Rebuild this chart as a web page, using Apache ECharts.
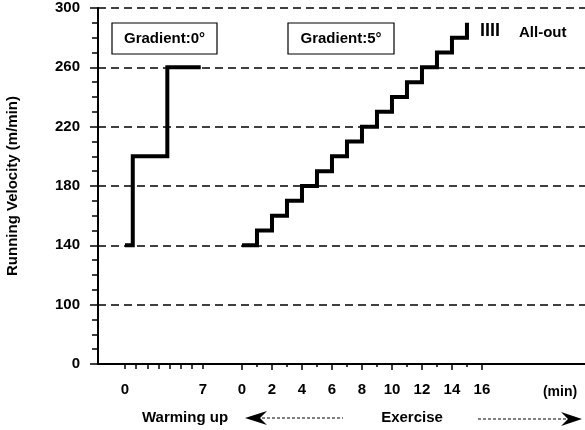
<!DOCTYPE html>
<html>
<head>
<meta charset="utf-8">
<script src="https://cdn.jsdelivr.net/npm/echarts@6/dist/echarts.min.js"></script>
<style>
html, body { margin: 0; padding: 0; background: #fff; }
#chart { width: 585px; height: 430px; }
</style>
</head>
<body>
<div id="chart"></div>
<script>
// warming up, gradient 0 deg (min / m per min)
var warmMin = [0, 0.7, 3.8, 6.8]
var warmVel = [140, 200, 260, 260]
// exercise, gradient 5 deg
var exMin = [0, 1, 2, 3, 4, 5, 6, 7, 8, 9, 10, 11, 12, 13, 14, 15]
var exVel = [140, 150, 160, 170, 180, 190, 200, 210, 220, 230, 240, 250, 260, 270, 280, 290]
// axis labels (the y axis is broken: its bottom tick reads 0)
var yLabels = ['0', '100', '140', '180', '220', '260', '300']
var warmLabels = [0, 7]
var warmTicks = [0, 1, 2, 3, 4, 5, 6, 7]
var exLabels = [0, 2, 4, 6, 8, 10, 12, 14, 16]
var exMinorTicks = [1, 3, 5, 7, 9, 11, 13, 15]

var VEL_BASE = 60 // velocity drawn at the bottom of the broken axis
var FONT = 'Liberation Sans, Arial, sans-serif'

var chart = echarts.init(document.getElementById('chart'))

var labelStyle = { color: '#000', fontFamily: FONT, fontSize: 15, fontWeight: 'bold' }

var option = {
  animation: false,
  grid: { left: 98, right: 0, top: 8, bottom: 66, outerBoundsMode: 'none' },
  xAxis: [
    {
      type: 'value', min: -2.42, max: 41.28, position: 'bottom',
      axisLine: { show: true, onZero: false, lineStyle: { color: '#000', width: 2 } },
      axisTick: { customValues: warmTicks, length: 5, lineStyle: { color: '#000', width: 1.5 } },
      axisLabel: Object.assign({ customValues: warmLabels, margin: 18 }, labelStyle),
      splitLine: { show: false }
    },
    {
      type: 'value', min: -9.6, max: 22.87, position: 'bottom',
      axisLine: { show: false, onZero: false },
      axisTick: { customValues: exLabels, length: 6, lineStyle: { color: '#000', width: 1.5 } },
      axisLabel: Object.assign({ customValues: exLabels, margin: 18 }, labelStyle),
      splitLine: { show: false }
    },
    {
      type: 'value', min: -9.6, max: 22.87, position: 'bottom',
      axisLine: { show: false, onZero: false },
      axisTick: { customValues: exMinorTicks, length: 3, lineStyle: { color: '#000', width: 1.5 } },
      axisLabel: { show: false },
      splitLine: { show: false }
    }
  ],
  yAxis: {
    type: 'value', min: 0, max: 240, interval: 40, position: 'left',
    name: 'Running Velocity (m/min)',
    nameLocation: 'middle', nameGap: 78, nameRotate: 90,
    nameTextStyle: { color: '#000', fontFamily: FONT, fontSize: 15, fontWeight: 'bold' },
    axisLine: { show: true, onZero: false, lineStyle: { color: '#000', width: 2 } },
    axisTick: { show: true, length: 8, lineStyle: { color: '#000', width: 1.5 } },
    minorTick: { show: true, splitNumber: 4, length: 6, lineStyle: { color: '#000', width: 1.5 } },
    axisLabel: Object.assign({
      margin: 18,
      formatter: function (v) { return yLabels[Math.round(v / 40)] }
    }, labelStyle),
    splitLine: { show: true, lineStyle: { color: '#000', width: 1.5, type: [8, 5] } }
  },
  series: [
    {
      type: 'line', xAxisIndex: 0, step: 'end', symbol: 'none',
      lineStyle: { color: '#000', width: 4, join: 'miter', cap: 'butt' },
      data: warmMin.map(function (m, i) { return [m, warmVel[i] - VEL_BASE] })
    },
    {
      type: 'line', xAxisIndex: 1, step: 'end', symbol: 'none',
      lineStyle: { color: '#000', width: 4, join: 'miter', cap: 'butt' },
      data: exMin.map(function (m, i) { return [m, exVel[i] - VEL_BASE] })
    }
  ],
  graphic: [
    { type: 'rect', shape: { x: 112, y: 23, width: 105, height: 31 }, style: { fill: '#fff', stroke: '#000', lineWidth: 1.2 } },
    { type: 'text', x: 164.5, y: 38.5, style: { text: 'Gradient:0°', font: 'bold 15px ' + FONT, fill: '#000', align: 'center', verticalAlign: 'middle' } },
    { type: 'rect', shape: { x: 288, y: 23, width: 106, height: 31 }, style: { fill: '#fff', stroke: '#000', lineWidth: 1.2 } },
    { type: 'text', x: 341, y: 38.5, style: { text: 'Gradient:5°', font: 'bold 15px ' + FONT, fill: '#000', align: 'center', verticalAlign: 'middle' } },
    { type: 'text', x: 480, y: 31, style: { text: 'IIII', font: 'bold 18px ' + FONT, fill: '#000', align: 'left', verticalAlign: 'middle' } },
    { type: 'text', x: 519, y: 33, style: { text: 'All-out', font: 'bold 15px ' + FONT, fill: '#000', align: 'left', verticalAlign: 'middle' } },
    { type: 'text', x: 560, y: 392, style: { text: '(min)', font: 'bold 14px ' + FONT, fill: '#000', align: 'center', verticalAlign: 'middle' } },
    { type: 'text', x: 185, y: 418, style: { text: 'Warming up', font: 'bold 15px ' + FONT, fill: '#000', align: 'center', verticalAlign: 'middle' } },
    { type: 'text', x: 412, y: 418, style: { text: 'Exercise', font: 'bold 15px ' + FONT, fill: '#000', align: 'center', verticalAlign: 'middle' } },
    { type: 'line', shape: { x1: 262, y1: 418, x2: 343, y2: 418 }, style: { stroke: '#000', lineWidth: 1, lineDash: [3, 2] } },
    { type: 'polygon', shape: { points: [[245, 418], [267, 411], [260, 418], [267, 425]] }, style: { fill: '#000' } },
    { type: 'line', shape: { x1: 478, y1: 419, x2: 566, y2: 419 }, style: { stroke: '#000', lineWidth: 1, lineDash: [3, 2] } },
    { type: 'polygon', shape: { points: [[582, 419], [561, 412], [568, 419], [561, 426]] }, style: { fill: '#000' } }
  ]
}

chart.setOption(option)
</script>
</body>
</html>
